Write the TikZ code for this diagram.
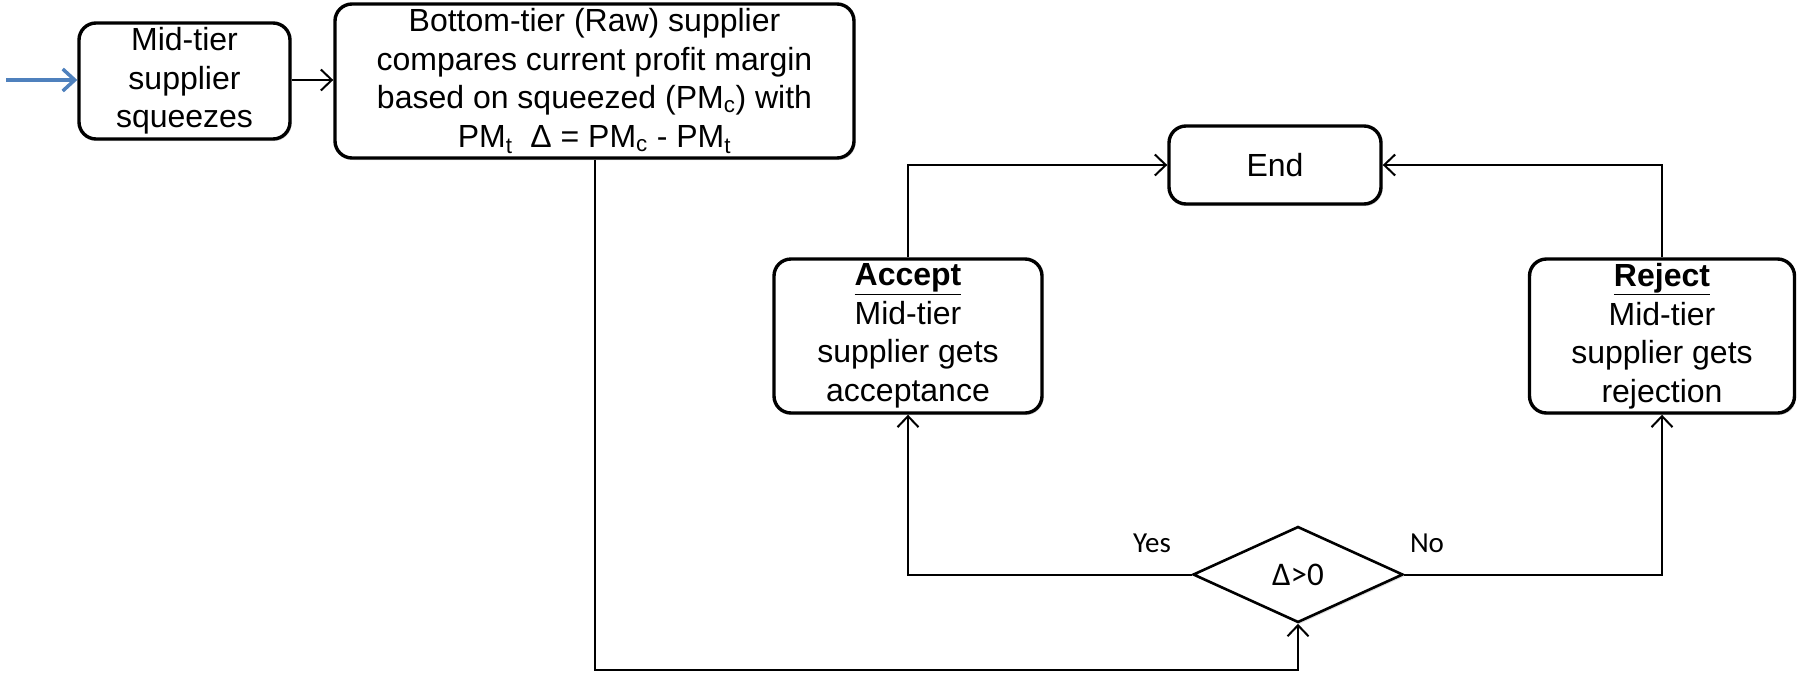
\documentclass[tikz,border=0pt]{standalone}
\usepackage{fontspec}
\setmainfont{Liberation Sans}
\newfontfamily\calib{Carlito}
\usetikzlibrary{arrows.meta,shapes.geometric,shadows}
\begin{document}
\begin{tikzpicture}[x=1pt,y=-1pt,
  box/.style={draw=black,line width=3.4pt,rounded corners=17pt,fill=white,align=center,
    font=\fontsize{32}{38.5}\selectfont,inner sep=0pt,
    drop shadow={opacity=0.25,shadow xshift=1.5pt,shadow yshift=-2pt}},
  dec/.style={draw=black,line width=2.6pt,diamond,fill=white,inner sep=0pt,
    minimum width=210pt,minimum height=96pt,font=\calib\fontsize{33}{38}\selectfont,
    drop shadow={opacity=0.25,shadow xshift=1.5pt,shadow yshift=-2pt}},
  conn/.style={draw=black,line width=2pt,-{Straight Barb[length=11pt,width=21pt,line width=2pt]}},
  lbl/.style={font=\calib\fontsize{29}{34}\selectfont,inner sep=0pt}]
\useasboundingbox (0,0) rectangle (1797,673);

\node[box,minimum width=211pt,minimum height=116pt] (mid) at (184.5,81) {Mid-tier\\supplier\\squeezes};
\node[box,minimum width=519pt,minimum height=154pt] (cmp) at (594.5,81)
  {Bottom-tier (Raw) supplier\\compares current profit margin\\based on squeezed (PM\textsubscript{c}) with\\PM\textsubscript{t}~ Δ = PM\textsubscript{c} - PM\textsubscript{t}};
\node[box,minimum width=212pt,minimum height=78pt] (end) at (1275,165) {End};
\node[box,minimum width=268pt,minimum height=154pt] (acc) at (908,336)
  {\textbf{\underline{Accept}}\\Mid-tier\\supplier gets\\acceptance};
\node[box,minimum width=265pt,minimum height=154pt] (rej) at (1662,336)
  {\textbf{\underline{Reject}}\\Mid-tier\\supplier gets\\rejection};
\node[dec] (dia) at (1298,574.5) {Δ>0};

\node[lbl] (yes) at (1152,543) {Yes};
\node[lbl] (no) at (1427,543) {No};

\coordinate (start) at (6,80);
\draw[conn,draw={rgb,255:red,79;green,129;blue,189},line width=3.5pt,
  -{Straight Barb[length=12pt,width=22pt,line width=3.5pt]}] (start) -- (mid.west |- start);
\draw[conn] (mid.east |- start) -- (cmp.west |- start);
\draw[conn] (cmp.south) -- (cmp.south |- 0,670) -| (dia.south);
\draw[conn] (dia.west) -| (acc.south);
\draw[conn] (dia.east) -| (rej.south);
\draw[conn] (acc.north) |- (end.west);
\draw[conn] (rej.north) |- (end.east);
\end{tikzpicture}
\end{document}
